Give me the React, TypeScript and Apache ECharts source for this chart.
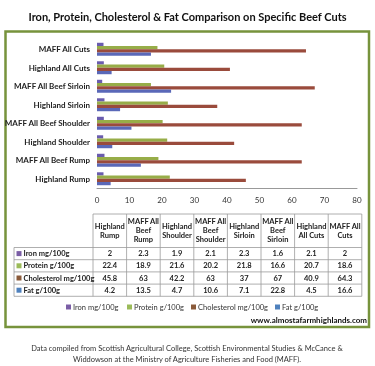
import React, { useEffect, useRef } from "react";
import * as echarts from "echarts";

const categories = [
  "Highland Rump",
  "MAFF All Beef Rump",
  "Highland Shoulder",
  "MAFF All Beef Shoulder",
  "Highland Sirloin",
  "MAFF All Beef Sirloin",
  "Highland All Cuts",
  "MAFF All Cuts",
];
const tableHeaders = [
  "Highland\nRump",
  "MAFF All\nBeef\nRump",
  "Highland\nShoulder",
  "MAFF All\nBeef\nShoulder",
  "Highland\nSirloin",
  "MAFF All\nBeef\nSirloin",
  "Highland\nAll Cuts",
  "MAFF All\nCuts",
];
const seriesNames = ["Iron mg/100g", "Protein g/100g", "Cholesterol mg/100g", "Fat g/100g"];
const iron = [2, 2.3, 1.9, 2.1, 2.3, 1.6, 2.1, 2];
const protein = [22.4, 18.9, 21.6, 20.2, 21.8, 16.6, 20.7, 18.6];
const cholesterol = [45.8, 63, 42.2, 63, 37, 67, 40.9, 64.3];
const fat = [4.2, 13.5, 4.7, 10.6, 7.1, 22.8, 4.5, 16.6];
const axisMin = 0;
const axisMax = 80;
const axisInterval = 10;

const seriesColors = ["#6a5cae", "#97ad48", "#9a4b3c", "#5a68b8"];
const legendColors = ["#7b5ea6", "#9bbb59", "#8a5a3a", "#4f81bd"];
const legendIconX = [66, 127, 191, 275];
const FONT = "Lato, 'Open Sans', sans-serif";

export default function App() {
  const ref = useRef<HTMLDivElement>(null);
  useEffect(() => {
    if (!ref.current) return;
    const chart = echarts.init(ref.current, undefined, { renderer: "svg" });
    const values = [iron, protein, cholesterol, fat];

    const tX0 = 93;
    const colW = 33.6;
    const tRight = tX0 + colW * 8;
    const hTop = 214;
    const hBot = 247.5;
    const rowH = 12.2;
    const labX = 14;
    const graphics: any[] = [];
    const lineStyle = { stroke: "#9a9a9a", lineWidth: 0.8 };
    graphics.push({ type: "line", shape: { x1: tX0, y1: hTop, x2: tRight, y2: hTop }, style: lineStyle, silent: true });
    for (let i = 0; i <= 8; i++) {
      const x = tX0 + i * colW;
      graphics.push({ type: "line", shape: { x1: x, y1: hTop, x2: x, y2: hBot + rowH * 4 }, style: lineStyle, silent: true });
    }
    graphics.push({ type: "line", shape: { x1: labX, y1: hBot, x2: labX, y2: hBot + rowH * 4 }, style: lineStyle, silent: true });
    for (let r = 0; r <= 4; r++) {
      const y = hBot + r * rowH;
      graphics.push({ type: "line", shape: { x1: labX, y1: y, x2: tRight, y2: y }, style: lineStyle, silent: true });
    }
    tableHeaders.forEach((h, i) => {
      graphics.push({
        type: "text",
        x: tX0 + (i + 0.5) * colW,
        y: (hTop + hBot) / 2,
        style: {
          text: h,
          align: "center",
          verticalAlign: "middle",
          font: `bold 7.5px ${FONT}`,
          lineHeight: 9,
          fill: "#222",
        },
        silent: true,
      });
    });
    seriesNames.forEach((name, r) => {
      const yc = hBot + (r + 0.5) * rowH;
      graphics.push({ type: "rect", shape: { x: 16.5, y: yc - 2.5, width: 5, height: 5 }, style: { fill: legendColors[r] }, silent: true });
      graphics.push({
        type: "text",
        x: 23.5,
        y: yc,
        style: { text: name, align: "left", verticalAlign: "middle", font: `bold 7.5px ${FONT}`, fill: "#222" },
        silent: true,
      });
      values[r].forEach((v, i) => {
        graphics.push({
          type: "text",
          x: tX0 + (i + 0.5) * colW,
          y: yc,
          style: { text: String(v), align: "center", verticalAlign: "middle", font: `bold 7.5px ${FONT}`, fill: "#222" },
          silent: true,
        });
      });
      // bottom legend
      graphics.push({ type: "rect", shape: { x: legendIconX[r], y: 304.5, width: 5, height: 5 }, style: { fill: legendColors[r] }, silent: true });
      graphics.push({
        type: "text",
        x: legendIconX[r] + 7,
        y: 307,
        style: { text: name, align: "left", verticalAlign: "middle", font: `7.5px ${FONT}`, fill: "#333" },
        silent: true,
      });
    });
    graphics.push({
      type: "rect",
      shape: { x: 5.5, y: 31.5, width: 363.5, height: 295.5 },
      style: { fill: "none", stroke: "#77933c", lineWidth: 2.5 },
      silent: true,
      z: -10,
    });
    graphics.push({
      type: "text",
      x: 367,
      y: 320,
      style: { text: "www.almostafarmhighlands.com", align: "right", verticalAlign: "middle", font: `bold 8px ${FONT}`, fill: "#111" },
      silent: true,
    });
    graphics.push({
      type: "text",
      x: 187,
      y: 354,
      style: {
        text:
          "Data compiled from Scottish Agricultural College, Scottish Environmental Studies & McCance &\nWiddowson at the Ministry of Agriculture Fisheries and Food (MAFF).",
        align: "center",
        verticalAlign: "middle",
        font: `7.5px ${FONT}`,
        lineHeight: 11,
        fill: "#333",
      },
      silent: true,
    });

    chart.setOption({
      animation: false,
      title: {
        text: "Iron, Protein, Cholesterol & Fat Comparison on Specific Beef Cuts",
        left: "center",
        top: 6,
        textStyle: { fontFamily: FONT, fontWeight: "bold", fontSize: 11, color: "#111" },
      },
      grid: { left: 97, right: 18, top: 40, bottom: 178 },
      xAxis: {
        type: "value",
        min: axisMin,
        max: axisMax,
        interval: axisInterval,
        axisLine: { show: true, lineStyle: { color: "#999" } },
        axisTick: { show: false },
        splitLine: { show: false },
        axisLabel: { fontFamily: FONT, fontSize: 8, color: "#333", margin: 8 },
      },
      yAxis: {
        type: "category",
        data: categories,
        axisLine: { show: false },
        axisTick: { show: false },
        axisLabel: { fontFamily: FONT, fontSize: 8, fontWeight: "bold", color: "#222", margin: 7 },
      },
      series: seriesNames.map((name, i) => ({
        name,
        type: "bar",
        data: values[i],
        barGap: "0%",
        barCategoryGap: "30%",
        itemStyle: { color: seriesColors[i] },
      })),
      graphic: graphics,
    });
    return () => chart.dispose();
  }, []);
  return <div ref={ref} style={{ position: "fixed", left: 0, top: 0, width: 375, height: 366 }} />;
}
